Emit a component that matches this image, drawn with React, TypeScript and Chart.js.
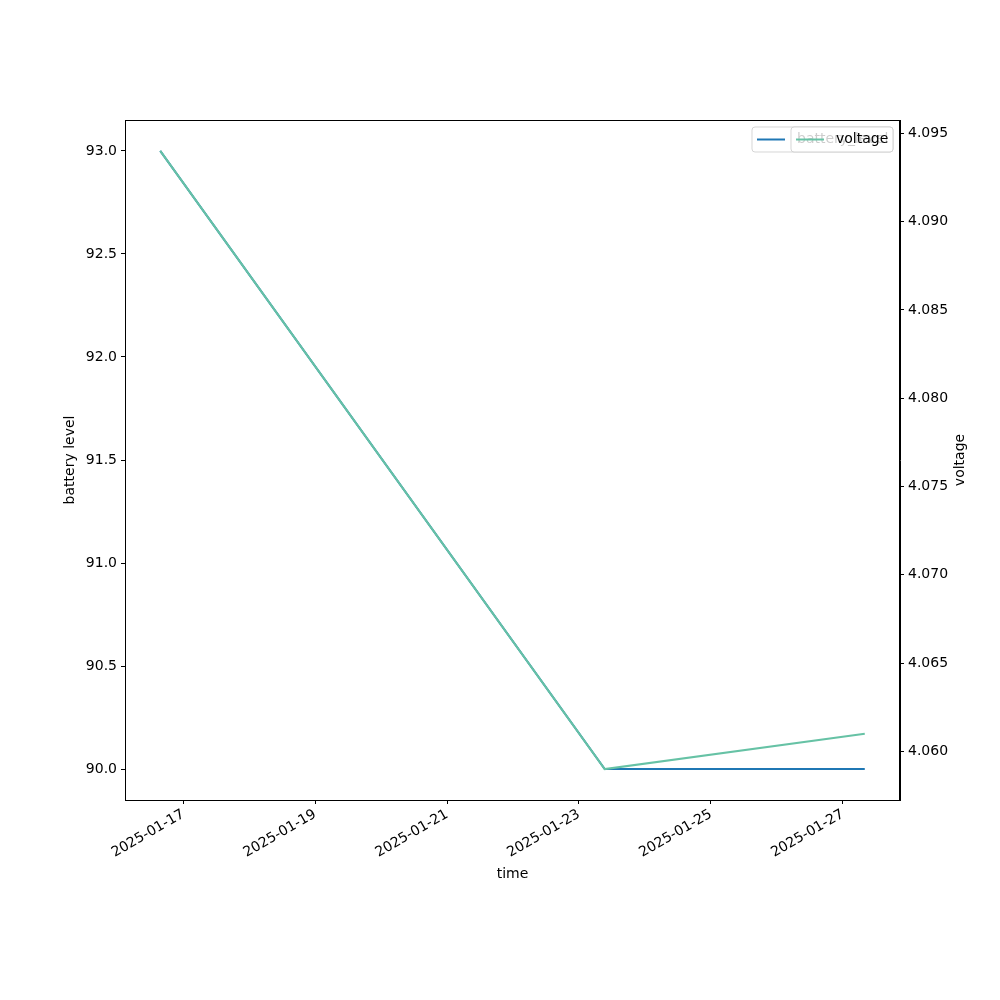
import React, { useEffect, useRef } from "react";
import { Chart, registerables } from "chart.js";

Chart.register(...registerables);

const timestamps = ["2025-01-16T15:36:00Z", "2025-01-23T09:22:00Z", "2025-01-27T08:00:00Z"];
const batteryLevel = [93, 90, 90];
const voltage = [4.094, 4.059, 4.061];
const xTickLabels = ["2025-01-17", "2025-01-19", "2025-01-21", "2025-01-23", "2025-01-25", "2025-01-27"];
const batteryTicks = [90.0, 90.5, 91.0, 91.5, 92.0, 92.5, 93.0];
const voltageTicks = [4.06, 4.065, 4.07, 4.075, 4.08, 4.085, 4.09, 4.095];

const BLUE = "#1f77b4";
const TEAL = "#66c2a5";
const FONT = "DejaVu Sans";

function withMargin(vals: number[], frac = 0.05): [number, number] {
  const lo = Math.min(...vals);
  const hi = Math.max(...vals);
  const d = (hi - lo) * frac;
  return [lo - d, hi + d];
}

export default function App() {
  const ref = useRef<HTMLCanvasElement | null>(null);

  useEffect(() => {
    if (!ref.current) return;
    const xs = timestamps.map((t) => Date.parse(t));
    const [xMin, xMax] = withMargin(xs);
    const [bMin, bMax] = withMargin(batteryLevel);
    const [vMin, vMax] = withMargin(voltage);
    const xTickVals = xTickLabels.map((s) => Date.parse(s + "T00:00:00Z"));

    const frame = {
      id: "frame",
      afterDatasetsDraw(chart: any) {
        const { ctx, chartArea: a } = chart;
        ctx.save();
        ctx.strokeStyle = "#000";
        ctx.lineWidth = 1;
        ctx.strokeRect(a.left + 0.5, a.top + 0.5, a.right - a.left - 1, a.bottom - a.top);
        // right axis title, matplotlib style (reads bottom to top)
        ctx.save();
        ctx.translate(960, (a.top + a.bottom) / 2);
        ctx.rotate(-Math.PI / 2);
        ctx.fillStyle = "#000";
        ctx.font = `14px "${FONT}"`;
        ctx.textAlign = "center";
        ctx.textBaseline = "middle";
        ctx.fillText("voltage", 0, 0);
        ctx.restore();
        // legends (two overlapping, matplotlib style)
        const drawBox = (x0: number, x1: number, color: string, label: string) => {
          const y0 = 127, y1 = 152, r = 3;
          ctx.beginPath();
          ctx.moveTo(x0 + r, y0);
          ctx.lineTo(x1 - r, y0);
          ctx.quadraticCurveTo(x1, y0, x1, y0 + r);
          ctx.lineTo(x1, y1 - r);
          ctx.quadraticCurveTo(x1, y1, x1 - r, y1);
          ctx.lineTo(x0 + r, y1);
          ctx.quadraticCurveTo(x0, y1, x0, y1 - r);
          ctx.lineTo(x0, y0 + r);
          ctx.quadraticCurveTo(x0, y0, x0 + r, y0);
          ctx.closePath();
          ctx.fillStyle = "rgba(255,255,255,0.8)";
          ctx.fill();
          ctx.strokeStyle = "rgba(204,204,204,0.8)";
          ctx.lineWidth = 1;
          ctx.stroke();
          ctx.beginPath();
          ctx.strokeStyle = color;
          ctx.lineWidth = 2;
          ctx.moveTo(x0 + 5, 139.5);
          ctx.lineTo(x0 + 33, 139.5);
          ctx.stroke();
          ctx.fillStyle = "#000";
          ctx.font = `14px "${FONT}"`;
          ctx.textBaseline = "middle";
          ctx.textAlign = "left";
          ctx.fillText(label, x0 + 45, 139.5);
        };
        drawBox(752, 893, BLUE, "battery_level");
        drawBox(791, 893, TEAL, "voltage");
        ctx.restore();
      },
    };

    const tickFont = { family: FONT, size: 14 };
    const titleFont = { family: FONT, size: 14 };

    const chart = new Chart(ref.current, {
      type: "line",
      data: {
        datasets: [
          {
            label: "voltage",
            data: xs.map((x, i) => ({ x, y: voltage[i] })),
            borderColor: TEAL,
            backgroundColor: TEAL,
            borderWidth: 2,
            pointRadius: 0,
            yAxisID: "y1",
            tension: 0,
          },
          {
            label: "battery_level",
            data: xs.map((x, i) => ({ x, y: batteryLevel[i] })),
            borderColor: BLUE,
            backgroundColor: BLUE,
            borderWidth: 2,
            pointRadius: 0,
            yAxisID: "y",
            tension: 0,
          },
        ],
      },
      options: {
        responsive: false,
        animation: false,
        events: [],
        layout: { padding: { left: 58, right: 29, top: 120, bottom: 113 } },
        plugins: { legend: { display: false }, tooltip: { enabled: false } },
        scales: {
          x: {
            type: "linear",
            min: xMin,
            max: xMax,
            afterBuildTicks: (s: any) => {
              s.ticks = xTickVals.map((v) => ({ value: v }));
            },
            afterFit: (s: any) => {
              s.height = 87;
            },
            grid: { drawOnChartArea: false, drawTicks: true, tickLength: 4, color: "#000", tickWidth: 1 },
            border: { color: "#000", width: 1 },
            ticks: {
              color: "#000",
              font: tickFont,
              padding: 2,
              maxRotation: 30,
              minRotation: 30,
              autoSkip: false,
              callback: (v: any) => new Date(v).toISOString().slice(0, 10),
            },
            title: { display: true, text: "time", color: "#000", font: titleFont, padding: { top: 4, bottom: 4 } },
          },
          y: {
            type: "linear",
            position: "left",
            min: bMin,
            max: bMax,
            afterBuildTicks: (s: any) => {
              s.ticks = batteryTicks.map((v) => ({ value: v }));
            },
            afterFit: (s: any) => {
              s.width = 67;
            },
            grid: { drawOnChartArea: false, drawTicks: true, tickLength: 4, color: "#000" },
            border: { color: "#000", width: 1 },
            ticks: {
              color: "#000",
              font: tickFont,
              padding: 4,
              callback: (v: any) => Number(v).toFixed(1),
            },
            title: { display: true, text: "battery level", color: "#000", font: titleFont, padding: { top: 4, bottom: 4 } },
          },
          y1: {
            type: "linear",
            position: "right",
            min: vMin,
            max: vMax,
            afterBuildTicks: (s: any) => {
              s.ticks = voltageTicks.map((v) => ({ value: v }));
            },
            afterFit: (s: any) => {
              s.width = 71;
            },
            grid: { drawOnChartArea: false, drawTicks: true, tickLength: 4, color: "#000" },
            border: { color: "#000", width: 1 },
            ticks: {
              color: "#000",
              font: tickFont,
              padding: 4,
              callback: (v: any) => Number(v).toFixed(3),
            },
          },
        },
      },
      plugins: [frame],
    } as any);

    return () => chart.destroy();
  }, []);

  return (
    <div style={{ position: "fixed", left: 0, top: 0, width: 1000, height: 1000, background: "#fff" }}>
      <canvas ref={ref} width={1000} height={1000} style={{ width: 1000, height: 1000 }} />
    </div>
  );
}
